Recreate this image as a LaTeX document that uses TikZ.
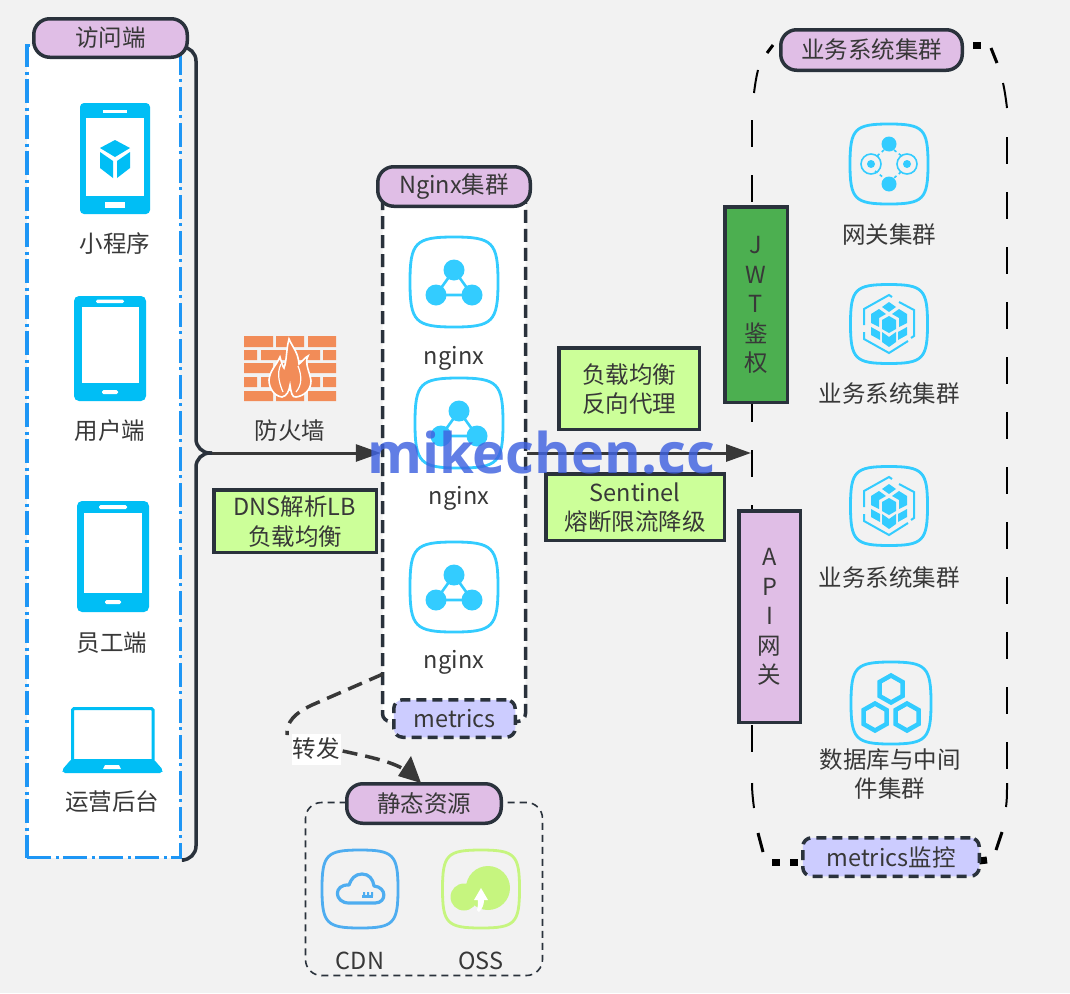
\documentclass[tikz,border=0pt]{standalone}
\usepackage{fontspec}
\setmainfont{Noto Sans CJK SC}
\newfontfamily\markfont{Open Sans}
\usetikzlibrary{arrows.meta}
\definecolor{bgc}{HTML}{F2F2F2}
\definecolor{ink}{HTML}{2A323C}
\definecolor{txt}{HTML}{383838}
\definecolor{pur}{HTML}{E0BEE6}
\definecolor{lav}{HTML}{CCCCFF}
\definecolor{lime}{HTML}{CCFF99}
\definecolor{grn}{HTML}{4CAF50}
\definecolor{devblue}{HTML}{00BEF5}
\definecolor{icon}{HTML}{33CCFF}
\definecolor{panelblue}{HTML}{1E96F5}
\definecolor{cdnblue}{HTML}{4EADF0}
\definecolor{osslime}{HTML}{C6F57F}
\definecolor{brick}{HTML}{F28C58}
\definecolor{wm}{HTML}{3F62E0}
\newcommand{\low}[1]{\raisebox{-1pt}{#1}}
\tikzset{
  lbl/.style={font=\fontsize{23.5}{29.5}\selectfont, text=txt, inner sep=0pt, align=center},
  free/.style={lbl, yshift=-0.5pt},
  pill/.style={lbl, draw=ink, fill=pur, line width=3.5pt, rounded corners=16pt},
  mpill/.style={pill, fill=lav, dash pattern=on 10pt off 6pt, rounded corners=9pt},
  greenbox/.style={lbl, draw=ink, fill=lime, line width=3.5pt},
  tallbox/.style={lbl, draw=ink, line width=3.5pt},
  flow/.style={draw=ink, line width=3.5pt, rounded corners=14pt},
  fwd/.style={draw=txt, line width=3.5pt, dash pattern=on 15pt off 8pt},
  tip/.style={-{Triangle[length=25pt,width=17pt,fill=txt]}},
  fr/.style={black, line width=2pt},
  frb/.style={black, line width=3pt},
  frd/.style={black, line width=7pt}
}
\newcommand{\squircle}[5]{% x y a b colour
  \draw[#5, line width=2.8pt] (#1,#2-#4) .. controls (#1+0.88*#3,#2-#4) and (#1+#3,#2-0.88*#4) .. (#1+#3,#2)
    .. controls (#1+#3,#2+0.88*#4) and (#1+0.88*#3,#2+#4) .. (#1,#2+#4)
    .. controls (#1-0.88*#3,#2+#4) and (#1-#3,#2+0.88*#4) .. (#1-#3,#2)
    .. controls (#1-#3,#2-0.88*#4) and (#1-0.88*#3,#2-#4) .. (#1,#2-#4) -- cycle;}
\newcommand{\neticon}[2]{%
  \begin{scope}[shift={(#1,#2)}]
    \draw[icon, line width=2.6pt] (0,-12) -- (-18,13) -- (18,13) -- cycle;
    \fill[icon] (0,-12) circle (10.5) (-18,13) circle (10.5) (18,13) circle (10.5);
  \end{scope}}
\newcommand{\cubeicon}[2]{%
  \begin{scope}[shift={(#1,#2)}]
    \fill[icon] (0,-22) -- (7,-17) -- (0,-12) -- (-7,-17) -- cycle;
    \fill[icon] (0,-8) -- (7,-4) -- (7,5) -- (0,9) -- (-7,5) -- (-7,-4) -- cycle;
    \fill[icon] (-18,-10) -- (-10,-15) -- (-3,-10) -- (-10,-6) -- (-10,3) -- (-18,-1) -- cycle;
    \fill[icon] (18,-10) -- (10,-15) -- (3,-10) -- (10,-6) -- (10,3) -- (18,-1) -- cycle;
    \fill[icon] (-18,3) -- (-9,8) -- (-9,16) -- (-18,11) -- cycle;
    \fill[icon] (18,3) -- (9,8) -- (9,16) -- (18,11) -- cycle;
    \fill[icon] (-7,8) -- (0,13) -- (7,8) -- (7,18) -- (0,23) -- (-7,18) -- cycle;
    \draw[icon, line width=2pt] (-25,1) -- (-25,-15) -- (0,-29) -- (3,-27);
    \draw[icon, line width=2pt] (10,-22) -- (25,-14) -- (25,12) -- (22,14);
    \draw[icon, line width=2pt] (19,17) -- (0,29) -- (-25,15) -- (-25,8);
  \end{scope}}
\begin{document}
\begin{tikzpicture}[x=1pt,y=-1pt]
\useasboundingbox (0,0) rectangle (1070,993);
\fill[bgc] (0,0) rectangle (1070,993);

% panels
\node[draw=panelblue, fill=white, line width=3.5pt, dash pattern=on 24pt off 5pt on 3pt off 4pt, minimum width=153.5pt, minimum height=812pt, inner sep=0pt] (accesspanel) at (103.5,451.5) {};
\node[draw=ink, fill=white, line width=3.5pt, dash pattern=on 13pt off 6pt, rounded corners=8pt, minimum width=143pt, minimum height=526pt, inner sep=0pt] (nginxpanel) at (454,458.5) {};
\node[draw=ink, line width=1.6pt, dash pattern=on 7pt off 5pt, rounded corners=16pt, minimum width=237pt, minimum height=173pt, inner sep=0pt] (staticpanel) at (424,889) {};

% business frame (sketchy dashes)
\draw[fr, dash pattern=on 27pt off 28pt] (752,120) -- (752,780);
\draw[fr] (752,783) .. controls (752,792) and (753,800) .. (754,808);
\draw[fr, dash pattern=on 27pt off 28pt] (1007,137) -- (1007,772);
\draw[fr] (1007,783) .. controls (1007,792) and (1007,800) .. (1006,807);
\draw[frb] (773,45) -- (767,53);
\draw[fr] (758,70) .. controls (756,78) and (755,85) .. (754,93);
\draw[frd] (973,45) -- (981,45);
\draw[frb] (991,48) -- (997,63);
\draw[fr] (1003,83) .. controls (1005,92) and (1006,100) .. (1007,108);
\draw[frb] (758,833) -- (763,852);
\draw[frd] (772,862) -- (780,862);
\draw[frd] (790,862) -- (798,862);
\draw[frd] (979,861) -- (987,860);
\draw[frb] (1002,832) -- (996,850);

% coordinates for connectors
\coordinate (hub) at (212,453);
\coordinate (busin) at (751,453);
\coordinate (railtop) at (184,47);
\coordinate (railbot) at (184,860);

% connectors from the client panel
\draw[flow] (railtop) -- (196,47) -- (196,453) -- (hub);
\draw[flow] (railbot) -- (196,860) -- (196,453) -- (hub);
\draw[line width=3pt, draw=txt, tip] (hub) -- (nginxpanel.west |- hub);
\draw[line width=3pt, draw=txt, tip] (nginxpanel.east |- hub) -- (busin);

% headers
\node[pill, minimum width=153.5pt, minimum height=38.5pt] (accesshead) at (110.5,38) {\low{访问端}};
\node[pill, minimum width=152.5pt, minimum height=39.5pt] (nginxhead) at (454,186.5) {\low{Nginx集群}};
\node[mpill, minimum width=121.5pt, minimum height=37.5pt] (nginxmetrics) at (454.5,718.5) {\low{metrics}};
\node[pill, minimum width=181.5pt, minimum height=40.5pt] (bizhead) at (871.5,50) {\low{业务系统集群}};
\node[mpill, minimum width=176.5pt, minimum height=38.5pt] (bizmetrics) at (891,857) {\low{metrics监控}};
\node[pill, minimum width=154.5pt, minimum height=39.5pt] (statichead) at (424,803.5) {\low{静态资源}};

% forward link
\coordinate (fwdstart) at (383,674);
\node[free, fill=white, minimum width=49pt, minimum height=31pt] (fwdlabel) at (316,748.5) {转发};
\draw[fwd] (fwdstart) -- (312,705) .. controls (295,713) and (286,722) .. (287,735);
\draw[fwd] (fwdlabel.east) ++(2,2) .. controls (370,757) and (395,762) .. (408,772);
\fill[txt] (421,783) -- (398,776) -- (411,756) -- cycle;

% client devices
\fill[devblue, rounded corners=4pt] (80,103) rectangle (150,214);
\fill[white] (86,118) rectangle (144,196);
\fill[white] (103,110) rectangle (127,112.5);
\fill[white] (105,202) rectangle (125,208);
\fill[devblue] (115,140) -- (130,148) -- (115,157) -- (100,148) -- cycle;
\fill[devblue] (100,152) -- (113,161) -- (113,178) -- (100,168) -- cycle;
\fill[devblue] (117,161) -- (130,152) -- (130,168) -- (117,178) -- cycle;
\node[free] (lminiapp) at (115,243) {小程序};

\fill[devblue, rounded corners=5pt] (74,296) rectangle (146,401);
\fill[white] (82,307) rectangle (139,383);
\fill[white, rounded corners=1.5pt] (96,299.5) rectangle (124,303);
\fill[white, rounded corners=1.5pt] (102,390) rectangle (118,394);
\node[free] (luser) at (110,430) {用户端};

\fill[devblue, rounded corners=5pt] (77,501) rectangle (149,612);
\fill[white] (84,513) rectangle (142,593);
\fill[white, rounded corners=1.5pt] (99,505) rectangle (127,509);
\fill[white, rounded corners=1.5pt] (105,600) rectangle (121,604);
\node[free] (lstaff) at (112,642) {员工端};

\draw[devblue, line width=3pt, rounded corners=1.5pt] (72.5,760) -- (72.5,708.5) -- (153,708.5) -- (153,760);
\fill[devblue, rounded corners=2pt] (71.5,759) -- (62,770) -- (63,773) -- (162,773) -- (163,770) -- (153.5,759) -- cycle;
\fill[white] (105,765) -- (119,765) -- (121,769) -- (103,769) -- cycle;
\node[free] (lops) at (112,801) {运营后台};

% firewall
\begin{scope}[brick]
  \fill (244,336) rectangle (273,347) (276,336) rectangle (304,347) (308,336) rectangle (336,347);
  \fill (244,350) rectangle (257,360) (261,350) rectangle (289,360) (292,350) rectangle (320,360) (323,350) rectangle (336,360);
  \fill (244,363) rectangle (273,373) (276,363) rectangle (304,373) (308,363) rectangle (336,373);
  \fill (244,377) rectangle (257,387) (261,377) rectangle (289,387) (292,377) rectangle (320,387) (323,377) rectangle (336,387);
  \fill (244,391) rectangle (273,401) (276,391) rectangle (304,401) (308,391) rectangle (336,401);
\end{scope}
\draw[white, fill=brick, line width=1.6pt] (289,339) .. controls (293,348) and (298,352) .. (299,364)
  .. controls (302,362) and (304,358) .. (308,356) .. controls (304,363) and (310,372) .. (311,381)
  .. controls (311,390) and (304,396) .. (296,397) .. controls (292,398) and (291,392) .. (290,385)
  .. controls (289,391) and (287,396) .. (282,397) .. controls (274,396) and (269,388) .. (269,380)
  .. controls (270,370) and (276,366) .. (280,357) .. controls (282,364) and (283,367) .. (284,368)
  .. controls (287,360) and (286,350) .. (289,339) -- cycle;
\draw[white, line width=1.2pt] (281,364) .. controls (276,374) and (280,385) .. (283,392);
\draw[white, line width=1.2pt] (298,366) .. controls (302,376) and (302,385) .. (296,392);
\node[free] (lfire) at (290,430) {防火墙};

% nginx nodes
\squircle{454}{282}{44}{45}{icon}
\neticon{454}{282}
\node[free] (ln1) at (454,358) {nginx};
\squircle{459}{423}{44}{45}{icon}
\neticon{459}{423}
\node[free] (ln2) at (459,498) {nginx};
\squircle{454}{587}{44}{45}{icon}
\neticon{454}{587}
\node[free] (ln3) at (454,662) {nginx};

% labelled boxes
\node[greenbox, minimum width=162.5pt, minimum height=62.5pt] (dnsbox) at (295,521) {};
\node[free] (dnstext) at (dnsbox.center) {DNS解析LB\\负载均衡};
\node[greenbox, minimum width=140.5pt, minimum height=81.5pt] (lbbox) at (629,388.5) {};
\node[free] (lbtext) at (lbbox.center) {负载均衡\\反向代理};
\node[greenbox, minimum width=178.5pt, minimum height=66.5pt] (sentbox) at (635,507) {};
\node[free] (senttext) at (sentbox.center) {Sentinel\\熔断限流降级};
\node[tallbox, fill=grn, minimum width=62.5pt, minimum height=195.5pt] (jwtbox) at (756,304.5) {};
\node[free] (jwttext) at (jwtbox.center) {J\\W\\T\\鉴\\权};
\node[tallbox, fill=pur, minimum width=61.5pt, minimum height=211.5pt] (apibox) at (769.5,616.5) {};
\node[free] (apitext) at (apibox.center) {A\\P\\I\\网\\关};

% business nodes
\squircle{889}{164}{39}{40}{icon}
\begin{scope}[shift={(889,164)}]
  \fill[icon] (0,-20) circle (7.5) (0,20) circle (7.5) (-18,0) circle (4) (18,0) circle (4);
  \draw[icon, line width=1.6pt] (-18,0) circle (10) (18,0) circle (10);
  \draw[icon, line width=1.6pt, dash pattern=on 3pt off 3pt] (-5,-14) -- (-12,-8) (5,-14) -- (14,-7) (-14,7) -- (-5,14) (12,8) -- (5,14);
\end{scope}
\node[free] (lgw) at (889,234) {网关集群};
\squircle{889}{324}{38.5}{39.5}{icon}
\cubeicon{889}{324}
\node[free] (lbiz1) at (889,393) {业务系统集群};
\squircle{889}{506}{38.5}{39.5}{icon}
\cubeicon{889}{506}
\node[free] (lbiz2) at (889,577) {业务系统集群};
\squircle{891}{703}{40}{41}{icon}
\begin{scope}[icon, line width=4.5pt]
  \draw (891,675.5) -- (902.5,682) -- (902.5,696) -- (891,702.5) -- (879.5,696) -- (879.5,682) -- cycle;
  \draw (875,703.5) -- (886.5,710) -- (886.5,724) -- (875,730.5) -- (863.5,724) -- (863.5,710) -- cycle;
  \draw (907,703.5) -- (918.5,710) -- (918.5,724) -- (907,730.5) -- (895.5,724) -- (895.5,710) -- cycle;
\end{scope}
\node[free] (ldb) at (890,773.5) {数据库与中间\\件集群};

% static resources
\squircle{360}{889}{38}{39}{cdnblue}
\draw[cdnblue, line width=3.2pt, line join=round] (349,903) .. controls (334,903) and (333,884) .. (349,885)
  .. controls (351,879) and (355,874) .. (362,874) .. controls (369,874) and (373,879) .. (374,886)
  .. controls (387,887) and (387,903) .. (375,903) -- cycle;
\fill[cdnblue] (362,895) rectangle (373,898);
\fill[cdnblue] (363,892) rectangle (365,896) (367,892) rectangle (369,896) (371,892) rectangle (373,896);
\node[free] (lcdn) at (360,960) {CDN};
\squircle{481}{889}{38.5}{39}{osslime}
\fill[osslime] (488,888) circle (22) (464,897) circle (13.5);
\fill[white] (481,888) -- (488,900) -- (484,900) .. controls (484,905) and (482,909) .. (479,912) -- (477,910) .. controls (478,906) and (478,903) .. (478,900) -- (474,900) -- cycle;
\node[free] (loss) at (481,960) {OSS};

% watermark
\node[font=\markfont\bfseries\fontsize{56}{56}\selectfont, text=wm, text opacity=0.82, inner sep=0pt, anchor=base] (watermark) at (541,473) {mikechen.cc};
\end{tikzpicture}
\end{document}
